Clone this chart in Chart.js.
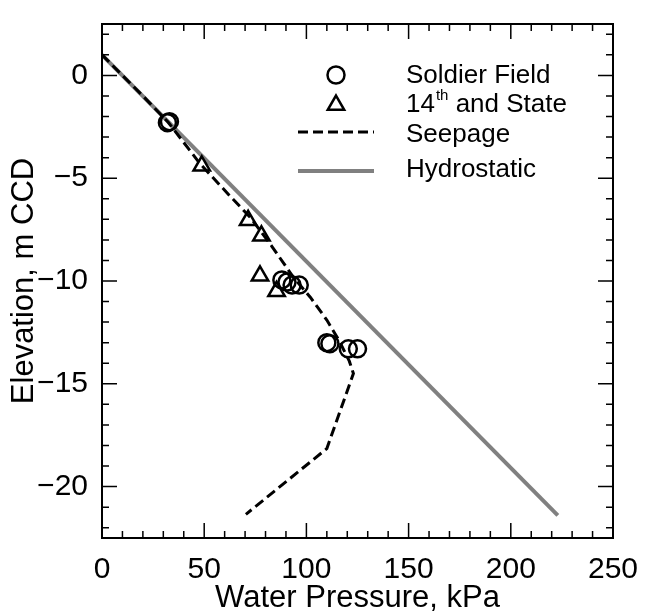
<!DOCTYPE html>
<html>
<head>
<meta charset="utf-8">
<script src="https://cdn.jsdelivr.net/npm/chart.js@4.4.1/dist/chart.umd.min.js"></script>
<style>
  html, body { margin: 0; padding: 0; background: #fff; }
</style>
</head>
<body>
<canvas id="chart" width="660" height="615"></canvas>
<script>
// measured pore pressures, kPa vs elevation, m CCD
var soldierPressure = [32, 33, 88, 90.5, 93, 96.5, 110, 111.5, 120.5, 125];
var soldierElev     = [-2.3, -2.25, -9.95, -10.05, -10.2, -10.2, -13.0, -13.05, -13.3, -13.3];

var stateStPressure = [48.8, 71.5, 78, 77.3, 85.4];
var stateStElev     = [-4.4, -7.05, -7.8, -9.75, -10.5];

// seepage analysis profile
var seepagePressure = [0, 20, 32.4, 48, 62, 72.5, 83, 93.5, 102, 110, 116, 121, 123, 110, 70.4];
var seepageElev     = [1.0, -1.0, -2.28, -4.3, -5.8, -6.9, -8.3, -9.8, -10.8, -11.9, -12.9, -13.9, -14.5, -18.15, -21.35];

// hydrostatic line
var hydroPressure = [0, 223];
var hydroElev     = [1.0, -21.4];

var xTicks = [0, 50, 100, 150, 200, 250];
var yTicks = [-20, -15, -10, -5, 0];

function pts(xs, ys) {
    return xs.map(function (x, i) { return {x: x, y: ys[i]}; });
}

var FONT = "'Liberation Sans', Arial, sans-serif";

// box round the plot with inward ticks on every side
var frame = {
    id: 'frame',
    afterDatasetsDraw: function (chart) {
        var ctx = chart.ctx, a = chart.chartArea;
        var xs = chart.scales.x, ys = chart.scales.y;
        ctx.save();
        ctx.strokeStyle = '#000';
        ctx.lineWidth = 1.5;
        ctx.beginPath();
        for (var v = xs.min; v <= xs.max + 0.001; v += 10) {
            var px = xs.getPixelForValue(v);
            var len = (v % 50 === 0) ? 15 : 7;
            ctx.moveTo(px, a.bottom); ctx.lineTo(px, a.bottom - len);
            ctx.moveTo(px, a.top); ctx.lineTo(px, a.top + len);
        }
        for (var w = -22; w <= 2; w += 1) {
            var py = ys.getPixelForValue(w);
            var len2 = (w % 5 === 0) ? 15 : 7;
            ctx.moveTo(a.left, py); ctx.lineTo(a.left + len2, py);
            ctx.moveTo(a.right, py); ctx.lineTo(a.right - len2, py);
        }
        ctx.stroke();
        ctx.lineWidth = 2;
        ctx.strokeRect(a.left, a.top, a.right - a.left, a.bottom - a.top);
        ctx.restore();
    }
};

// legend drawn inside the plot, symbols then labels
var insideLegend = {
    id: 'insideLegend',
    afterDraw: function (chart) {
        var ctx = chart.ctx;
        var symRows = [75, 103, 132, 171];
        var textRows = [76, 105, 135, 170];
        var symX = 336, textX = 406;
        ctx.save();
        ctx.textBaseline = 'middle';
        ctx.fillStyle = '#000';
        chart.data.datasets.forEach(function (ds, i) {
            var y = symRows[i];
            if (ds.showLine) {
                ctx.save();
                ctx.strokeStyle = ds.borderColor;
                ctx.lineWidth = ds.borderWidth;
                ctx.setLineDash(ds.borderDash || []);
                ctx.beginPath();
                ctx.moveTo(symX - 38, y);
                ctx.lineTo(symX + 38, y);
                ctx.stroke();
                ctx.restore();
            } else {
                ctx.save();
                ctx.strokeStyle = ds.pointBorderColor;
                ctx.fillStyle = 'rgba(0,0,0,0)';
                ctx.lineWidth = ds.pointBorderWidth;
                Chart.helpers.drawPoint(ctx, {
                    pointStyle: ds.pointStyle, radius: ds.pointRadius,
                    rotation: 0, borderWidth: ds.pointBorderWidth
                }, symX, ds.pointStyle === 'triangle' ? y + 2 : y);
                ctx.restore();
            }
            var ty = textRows[i];
            var m = ds.label.match(/^(\d+)(th)(.*)$/);
            ctx.font = '26px ' + FONT;
            if (m) {
                ctx.fillText(m[1], textX, ty);
                var w1 = ctx.measureText(m[1]).width;
                ctx.font = '15px ' + FONT;
                ctx.fillText(m[2], textX + w1 + 1, ty - 9);
                var w2 = ctx.measureText(m[2]).width;
                ctx.font = '26px ' + FONT;
                ctx.fillText(m[3], textX + w1 + w2 + 1, ty);
            } else {
                ctx.fillText(ds.label, textX, ty);
            }
        });
        ctx.restore();
    }
};

var chart = new Chart(document.getElementById('chart').getContext('2d'), {
    type: 'scatter',
    data: {
        datasets: [
            {
                label: 'Soldier Field',
                data: pts(soldierPressure, soldierElev),
                pointStyle: 'circle',
                pointRadius: 8.5,
                pointBorderWidth: 2.5,
                pointBorderColor: '#000',
                pointBackgroundColor: 'rgba(0,0,0,0)',
                showLine: false
            },
            {
                label: '14th and State',
                data: pts(stateStPressure, stateStElev),
                pointStyle: 'triangle',
                pointRadius: 9.5,
                pointBorderWidth: 2.5,
                pointBorderColor: '#000',
                pointBackgroundColor: 'rgba(0,0,0,0)',
                showLine: false
            },
            {
                label: 'Seepage',
                data: pts(seepagePressure, seepageElev),
                showLine: true,
                borderColor: '#000',
                borderWidth: 3,
                borderDash: [10, 5],
                pointRadius: 0,
                tension: 0
            },
            {
                label: 'Hydrostatic',
                data: pts(hydroPressure, hydroElev),
                showLine: true,
                borderColor: '#808080',
                borderWidth: 4,
                pointRadius: 0
            }
        ]
    },
    options: {
        responsive: false,
        animation: false,
        layout: { padding: { top: 13, right: 47, left: 0, bottom: 0 } },
        plugins: {
            legend: { display: false },
            tooltip: { enabled: false }
        },
        scales: {
            x: {
                type: 'linear',
                min: 0,
                max: 250,
                afterBuildTicks: function (s) { s.ticks = xTicks.map(function (v) { return {value: v}; }); },
                afterFit: function (s) { s.height = 77; },
                grid: { display: false },
                border: { display: false },
                ticks: {
                    padding: 6,
                    color: '#000',
                    font: { family: FONT, size: 30 },
                    maxRotation: 0
                },
                title: {
                    display: true,
                    text: 'Water Pressure, kPa',
                    color: '#000',
                    font: { family: FONT, size: 31 },
                    padding: { top: 0, bottom: -2 }
                }
            },
            y: {
                type: 'linear',
                min: -22.5,
                max: 2.5,
                afterBuildTicks: function (s) { s.ticks = yTicks.map(function (v) { return {value: v}; }); },
                afterFit: function (s) { s.width = 102; },
                grid: { display: false },
                border: { display: false },
                ticks: {
                    padding: 6,
                    color: '#000',
                    font: { family: FONT, size: 30 },
                    callback: function (v) { return String(v).replace('-', '\u2212'); }
                },
                title: {
                    display: true,
                    text: 'Elevation, m CCD',
                    color: '#000',
                    font: { family: FONT, size: 31 },
                    padding: { top: 6, bottom: 0 }
                }
            }
        }
    },
    plugins: [frame, insideLegend]
});
</script>
</body>
</html>
